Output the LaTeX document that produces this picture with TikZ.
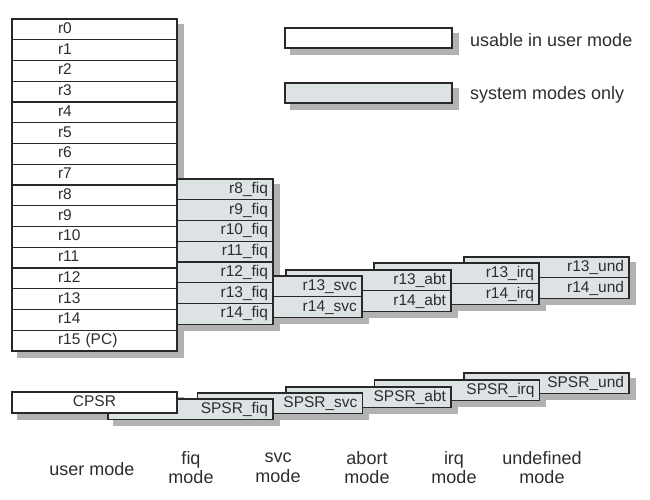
\documentclass[tikz,border=0pt]{standalone}
\usepackage{fontspec}
\setmainfont{Liberation Sans}

\definecolor{edge}{RGB}{40,40,40}
\definecolor{ink}{RGB}{45,45,45}
\definecolor{sysfill}{RGB}{221,227,229}
\definecolor{shade}{RGB}{178,178,178}

\pgfdeclarelayer{shadows}
\pgfsetlayers{shadows,main}

\tikzset{
  reg/.style={draw=edge, line width=1.3pt, minimum height=20.75pt, inner ysep=0pt,
    text=ink, font=\fontsize{15.5}{15.5}\selectfont, text height=11pt, text depth=3pt},
  userreg/.style={reg, fill=white, text width=73pt, inner xsep=46pt, align=left},
  bankreg/.style={reg, fill=sysfill, text width=155pt, inner xsep=5pt, align=right},
  psr/.style={reg, fill=white, minimum width=165pt},
  keybox/.style={draw=edge, line width=1.3pt, minimum width=167pt, minimum height=20pt},
  keytext/.style={text=ink, font=\fontsize{18}{18}\selectfont, anchor=west, inner xsep=0pt},
  modelabel/.style={text=ink, font=\fontsize{18}{19.5}\selectfont, align=center},
  shadefill/.style={fill=shade}
}

% grey drop shadow behind a card, from its top left to its bottom right node
\newcommand{\dropshade}[2]{%
  \begin{pgfonlayer}{shadows}
    \fill[shadefill] ([shift={(6,6)}]#1.north west) rectangle ([shift={(6,6)}]#2.south east);
  \end{pgfonlayer}}

\begin{document}
\begin{tikzpicture}[x=1pt, y=-1pt]
  \useasboundingbox (0,0) rectangle (650,500);

  % banked registers, back to front
  \foreach \mode/\x/\y/\first in {und/546.5/257/13, irq/456.5/263/13, abt/368.5/270/13,
                                  svc/279.5/276/13, fiq/190.5/179/8} {
    \foreach \k in {\first,...,14} {
      \node[bankreg] (r\k\mode) at (\x, {\y+20.75*(\k-\first+0.5)}) {r\k\_\mode};
    }
    \dropshade{r\first\mode}{r14\mode}
  }

  % user registers
  \foreach \k in {0,...,14} {
    \node[userreg] (r\k) at (94.5, {19+20.75*(\k+0.5)}) {r\k};
  }
  \node[userreg] (r15) at (94.5, {19+20.75*15.5}) {r15 (PC)};
  \dropshade{r0}{r15}

  % status registers
  \foreach \mode/\x/\y in {und/546.5/373, irq/457/380, abt/368.5/387, svc/280/393, fiq/190.5/399} {
    \node[bankreg] (spsr\mode) at (\x, {\y+10.4}) {SPSR\_\mode};
    \dropshade{spsr\mode}{spsr\mode}
  }
  \node[psr] (cpsr) at (94.5, 402.5) {CPSR};
  \dropshade{cpsr}{cpsr}

  % key
  \node[keybox, fill=white] (keyuser) at (368.5, 38) {};
  \dropshade{keyuser}{keyuser}
  \node[keytext] (keyusertext) at (470, 40) {usable in user mode};
  \node[keybox, fill=sysfill] (keysys) at (368.5, 93) {};
  \dropshade{keysys}{keysys}
  \node[keytext] (keysystext) at (470, 95) {system modes only};

  % mode names
  \node[modelabel] (usermode) at (92, 469) {user mode};
  \node[modelabel] (fiqmode) at (191, 467.5) {fiq\\mode};
  \node[modelabel] (svcmode) at (278, 467.5) {svc\\mode};
  \node[modelabel] (abtmode) at (367, 467.5) {abort\\mode};
  \node[modelabel] (irqmode) at (454, 467.5) {irq\\mode};
  \node[modelabel] (undmode) at (542, 467.5) {undefined\\mode};
\end{tikzpicture}
\end{document}
